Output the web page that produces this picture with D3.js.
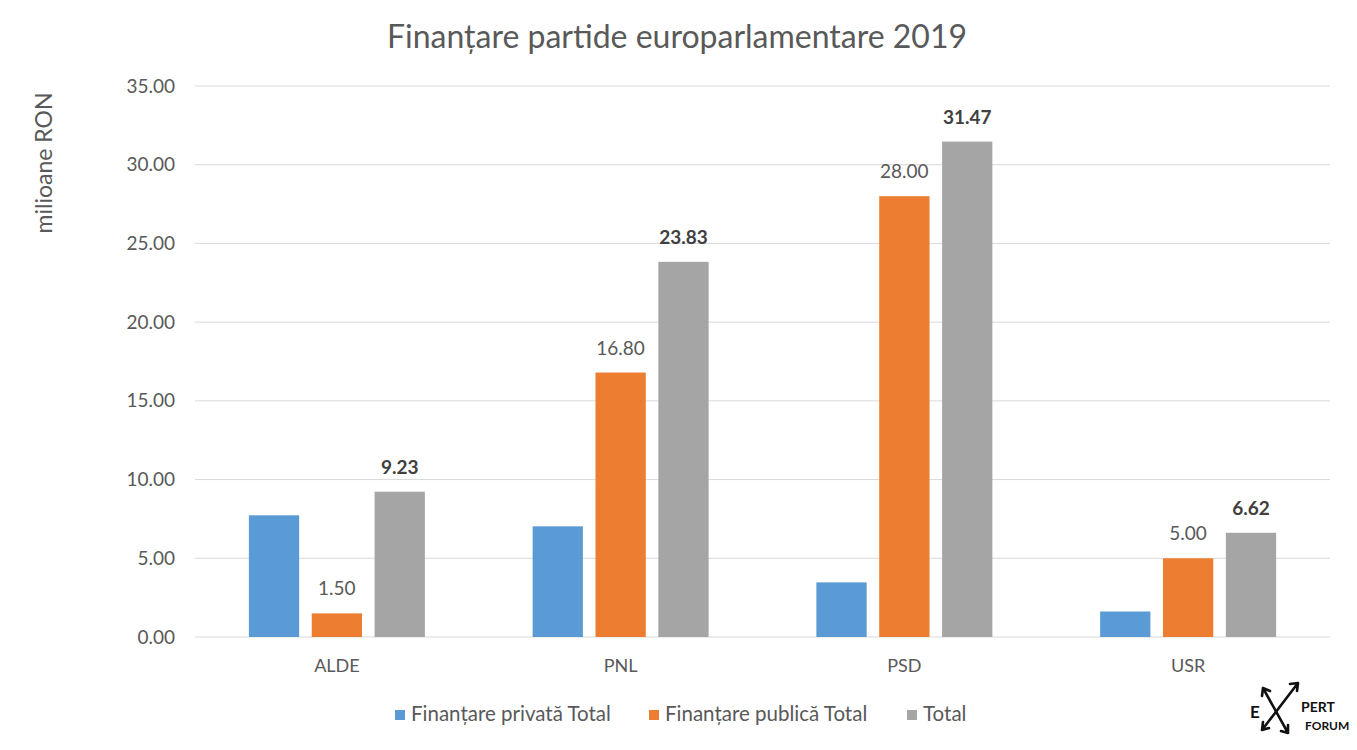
<!DOCTYPE html>
<html>
<head>
<meta charset="utf-8">
<script src="https://cdn.jsdelivr.net/npm/d3@7"></script>
<style>
  body { margin: 0; background: #fff; }
  svg { font-family: Lato, "Open Sans", sans-serif; }
  .axis text { fill: #595959; font-family: Lato, "Open Sans", sans-serif; }
  .axis path, .axis line { stroke: none; }
  .grid line { stroke: #d9d9d9; stroke-width: 1; }
</style>
</head>
<body>
<div id="chart"></div>
<script>
const width = 1357;
const height = 750;
const margin = { top: 86, right: 27, bottom: 113, left: 195 };

const parties = ["ALDE", "PNL", "PSD", "USR"];
const seriesNames = ["Finanțare privată Total", "Finanțare publică Total", "Total"];
const privateValues = [7.73, 7.03, 3.47, 1.62];
const publicValues = [1.50, 16.80, 28.00, 5.00];
const totalValues = [9.23, 23.83, 31.47, 6.62];
const yTicks = [0, 5, 10, 15, 20, 25, 30, 35];
const colors = ["#5b9bd5", "#ed7d31", "#a5a5a5"];

const series = [privateValues, publicValues, totalValues];
const rows = parties.map((p, i) => ({ party: p, values: series.map(s => s[i]) }));

const svg = d3.select("#chart").append("svg")
    .attr("width", width)
    .attr("height", height);

const x0 = d3.scaleBand()
    .domain(parties)
    .range([margin.left, width - margin.right]);

const x1 = d3.scaleBand()
    .domain([0, 1, 2])
    .range([0, 176])
    .paddingInner(0.2);

const y = d3.scaleLinear()
    .domain([0, 35])
    .range([height - margin.bottom, margin.top]);

// gridlines
svg.append("g")
    .attr("class", "grid")
    .selectAll("line")
    .data(yTicks)
    .enter()
    .append("line")
    .attr("x1", margin.left)
    .attr("x2", width - margin.right)
    .attr("y1", d => y(d))
    .attr("y2", d => y(d));

// bars
const groups = svg.selectAll(".group")
    .data(rows)
    .enter()
    .append("g")
    .attr("class", "group")
    .attr("transform", d => "translate(" + (x0(d.party) + (x0.bandwidth() - 176) / 2) + ",0)");

groups.selectAll("rect")
    .data(d => d.values.map((v, i) => ({ v: v, i: i })))
    .enter()
    .append("rect")
    .attr("x", d => x1(d.i))
    .attr("y", d => y(d.v))
    .attr("width", x1.bandwidth())
    .attr("height", d => y(0) - y(d.v))
    .style("fill", d => colors[d.i]);

// value labels (public and total only)
groups.selectAll("text")
    .data(d => d.values.map((v, i) => ({ v: v, i: i })).filter(d => d.i > 0))
    .enter()
    .append("text")
    .attr("x", d => x1(d.i) + x1.bandwidth() / 2)
    .attr("y", d => y(d.v) - 18)
    .attr("text-anchor", "middle")
    .style("font-size", "19px")
    .style("font-weight", d => d.i === 2 ? "bold" : "normal")
    .style("fill", d => d.i === 2 ? "#404040" : "#595959")
    .text(d => d.v.toFixed(2));

// axes
const yAxis = d3.axisLeft(y).tickValues(yTicks).tickFormat(d => d.toFixed(2)).tickSize(0).tickPadding(20);
svg.append("g")
    .attr("class", "axis")
    .attr("transform", "translate(" + margin.left + ",0)")
    .call(yAxis)
    .attr("font-family", null)
    .selectAll("text").style("font-size", "19px");

const xAxis = d3.axisBottom(x0).tickSize(0).tickPadding(22);
svg.append("g")
    .attr("class", "axis")
    .attr("transform", "translate(0," + (height - margin.bottom) + ")")
    .call(xAxis)
    .attr("font-family", null)
    .selectAll("text").style("font-size", "18px");

// title
svg.append("text")
    .attr("x", 677)
    .attr("y", 48)
    .attr("text-anchor", "middle")
    .style("font-size", "32px")
    .style("fill", "#595959")
    .text("Finanțare partide europarlamentare 2019");

// y label
svg.append("text")
    .attr("transform", "translate(52,163) rotate(-90)")
    .attr("text-anchor", "middle")
    .style("font-size", "23px")
    .style("fill", "#595959")
    .text("milioane RON");

// legend
const legendX = [395, 649, 907];
const legend = svg.selectAll(".legend")
    .data(seriesNames)
    .enter()
    .append("g")
    .attr("class", "legend")
    .attr("transform", (d, i) => "translate(" + legendX[i] + ",714)");

legend.append("rect")
    .attr("x", 0)
    .attr("y", -4)
    .attr("width", 10)
    .attr("height", 10)
    .style("fill", (d, i) => colors[i]);

legend.append("text")
    .attr("x", 16)
    .attr("y", 7)
    .style("font-size", "20.5px")
    .style("fill", "#595959")
    .text(d => d);

// expert forum logo (rough)
const logo = svg.append("g")
    .attr("transform", "translate(1250,680)")
    .style("stroke", "#111")
    .style("stroke-width", 2.6)
    .style("fill", "none")
    .style("stroke-linecap", "round");
logo.append("path").attr("d", "M13,8 L38,53 M13,8 l-1,8 M13,8 l7,3 M38,53 l0,-8 M38,53 l-7,-2");
logo.append("path").attr("d", "M48,3 L12,50 M48,3 l-8,1 M48,3 l-1,8 M12,50 l1,-8 M12,50 l7,-2");
logo.append("text")
    .attr("x", 0).attr("y", 38)
    .style("stroke", "none").style("fill", "#111")
    .style("font-size", "17px").style("font-weight", "bold")
    .text("E");
logo.append("text")
    .attr("x", 51).attr("y", 32)
    .style("stroke", "none").style("fill", "#111")
    .style("font-size", "14px").style("font-weight", "bold")
    .text("PERT");
logo.append("text")
    .attr("x", 55).attr("y", 50)
    .style("stroke", "none").style("fill", "#111")
    .style("font-size", "12px").style("font-weight", "bold")
    .text("FORUM");
</script>
</body>
</html>
